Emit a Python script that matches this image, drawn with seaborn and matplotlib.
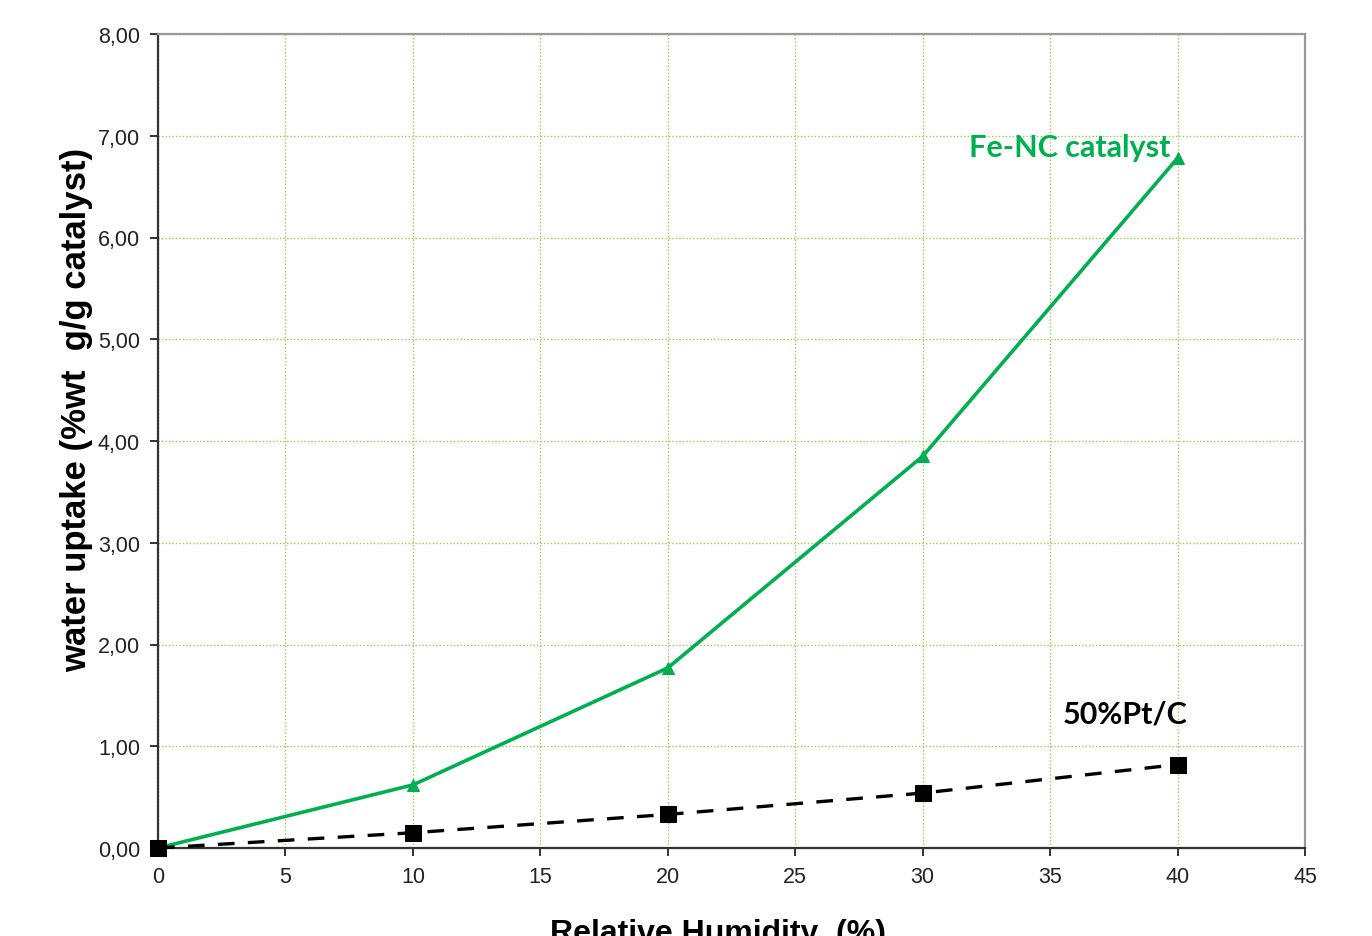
import matplotlib
matplotlib.use("Agg")
import matplotlib.pyplot as plt
import matplotlib.ticker as mticker
import seaborn as sns
import pandas as pd

rh = [0, 10, 20, 30, 40]
fenc = [0.0, 0.62, 1.77, 3.85, 6.78]
ptc = [0.0, 0.15, 0.33, 0.54, 0.82]
series_names = ["Fe-NC catalyst", "50%Pt/C"]

sns.set_theme(style="white")
plt.rcParams['font.family'] = ['Liberation Sans', 'DejaVu Sans']

green = "#00b050"
grid_green = "#92d050"

fig = plt.figure(figsize=(13.72, 9.37), dpi=100)
ax = fig.add_axes([158/1372, 1-849/937, (1305-158)/1372, (849-35)/937])

df_fe = pd.DataFrame({"rh": rh, "val": fenc})
df_pt = pd.DataFrame({"rh": rh, "val": ptc})

sns.lineplot(data=df_fe, x="rh", y="val", ax=ax, color=green, lw=2.6,
             marker="^", markersize=9, markeredgecolor=green, zorder=3)
sns.lineplot(data=df_pt, x="rh", y="val", ax=ax, color="black", lw=2.4,
             linestyle=(0, (5, 4)), marker="s", markersize=11,
             markeredgecolor="black", zorder=4)
for ln in ax.lines:
    ln.set_clip_on(False)

ax.set_xlim(0, 45)
ax.set_ylim(0, 8)
ax.xaxis.set_major_locator(mticker.MultipleLocator(5))
ax.yaxis.set_major_locator(mticker.MultipleLocator(1))
ax.yaxis.set_major_formatter(mticker.FuncFormatter(lambda v, p: f"{v:.2f}".replace(".", ",")))

ax.grid(True, color=grid_green, linestyle=(0, (1, 1.5)), lw=1.0)
ax.set_axisbelow(True)

for s in ["left", "bottom"]:
    ax.spines[s].set_color("#333333")
    ax.spines[s].set_linewidth(1.6)
for s in ["top", "right"]:
    ax.spines[s].set_color("#999999")
    ax.spines[s].set_linewidth(1.6)

ax.tick_params(axis="both", which="major", direction="out", length=6, width=1.4,
               color="#333333", labelsize=15.5, labelcolor="#222222", pad=7,
               bottom=True, left=True)

ax.set_xlabel("Relative Humidity  (%)", fontsize=23, fontweight="bold", labelpad=22,
              color="black", x=0.488)
ax.set_ylabel("water uptake (%wt  g/g catalyst)", fontsize=25, fontweight="bold", labelpad=3,
              color="black", y=0.539)

ax.text(40 - 0.3, 6.89, series_names[0], color=green, fontsize=22, fontweight="bold",
        family=["Lato", "DejaVu Sans"], ha="right", va="center")
ax.text(40.4, 1.32, series_names[1], color="black", fontsize=22, fontweight="bold",
        family=["Lato", "DejaVu Sans"], ha="right", va="center")

fig.savefig("out.png", dpi=100)
